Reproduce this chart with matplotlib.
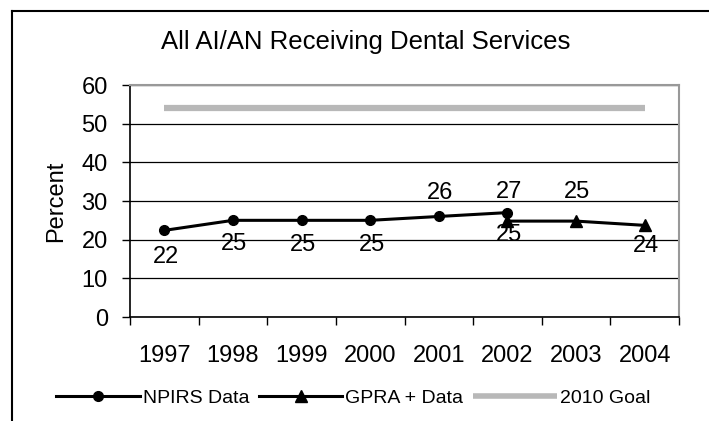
import matplotlib.pyplot as plt
from matplotlib.lines import Line2D

plt.rcParams['font.family'] = ['Liberation Sans', 'DejaVu Sans']

years = ["1997", "1998", "1999", "2000", "2001", "2002", "2003", "2004"]
npirs = [22.4, 25, 25, 25, 26, 27]
npirs_labels = ["22", "25", "25", "25", "26", "27"]
gpra = [24.8, 24.8, 23.7]
gpra_labels = ["25", "25", "24"]
goal = 54

fig = plt.figure(figsize=(7.09, 4.21), dpi=100)
ax = fig.add_axes([130 / 709, 1 - 317 / 421, 549 / 709, 232 / 421])

x = list(range(len(years)))
ax.plot(x, [goal] * len(years), color="#b8b8b8", lw=4.5, solid_capstyle="butt", zorder=2)
ax.plot(x[:6], npirs, color="black", lw=2.2, marker="o", ms=7, zorder=3)
ax.plot(x[5:], gpra, color="black", lw=2.2, marker="^", ms=8.5, zorder=3)

# data labels (offsets in points)
npirs_off = [-19, -17, -18, -18, 17, 15]
for xi, v, t, o in zip(x[:6], npirs, npirs_labels, npirs_off):
    ax.annotate(t, (xi, v), xytext=(1, o), textcoords="offset points",
                ha="center", va="center", fontsize=17)
gpra_off = [-10, 21, -15]
for xi, v, t, o in zip(x[5:], gpra, gpra_labels, gpra_off):
    ax.annotate(t, (xi, v), xytext=(1, o), textcoords="offset points",
                ha="center", va="center", fontsize=17)

ax.set_xlim(-0.5, 7.5)
ax.set_ylim(0, 60)
ax.set_yticks(range(0, 61, 10))
ax.set_xticks(x)
ax.set_xticklabels(years)
ax.set_xticks([i - 0.5 for i in range(9)], minor=True)
ax.tick_params(axis="x", which="major", length=0, pad=20, labelsize=17)
ax.tick_params(axis="x", which="minor", length=6, width=1, direction="out")
ax.tick_params(axis="y", length=6, width=1, pad=10, labelsize=17)

ax.grid(axis="y", color="black", lw=0.9, zorder=1)
ax.set_axisbelow(True)
for s in ["top", "right"]:
    ax.spines[s].set_color("#999999")
    ax.spines[s].set_linewidth(1.5)
ax.spines["left"].set_linewidth(1.2)
ax.spines["bottom"].set_linewidth(1.2)

ax.set_ylabel("Percent", fontsize=17, labelpad=10)
fig.text(366 / 709, 1 - 42 / 421, "All AI/AN Receiving Dental Services",
         ha="center", va="center", fontsize=18.5)

handles = [
    Line2D([], [], color="black", lw=2.2, marker="o", ms=7),
    Line2D([], [], color="black", lw=2.2, marker="^", ms=8.5),
    Line2D([], [], color="#b8b8b8", lw=4, solid_capstyle="butt"),
]
fig.legend(handles, ["NPIRS Data", "GPRA + Data", "2010 Goal"], loc="center",
           bbox_to_anchor=(353 / 709, 1 - 398 / 421), ncol=3, frameon=False,
           fontsize=14, handlelength=4.3, handletextpad=0.15, columnspacing=0.5,
           borderpad=0)

# outer chart border
fig.add_artist(Line2D([12 / 709, 1], [1 - 11 / 421] * 2, color="black", lw=1.5))
fig.add_artist(Line2D([12 / 709] * 2, [0, 1 - 11 / 421], color="black", lw=1.5))

fig.savefig("out.png", dpi=100)
